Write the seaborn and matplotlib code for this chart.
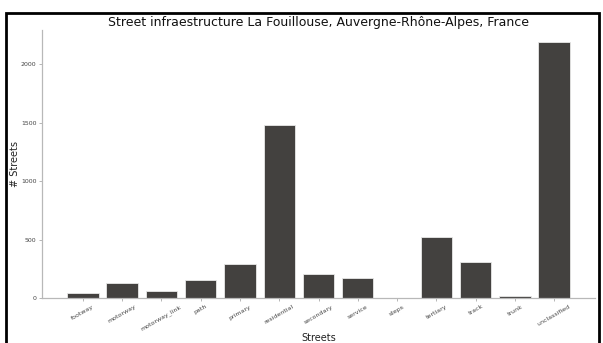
import matplotlib
matplotlib.use("Agg")
import matplotlib.pyplot as plt
import seaborn as sns
import pandas as pd
from matplotlib.patches import Rectangle

streets = ["footway", "motorway", "motorway_link", "path", "primary", "residential",
           "secondary", "service", "steps", "tertiary", "track", "trunk", "unclassified"]
counts = [43, 133, 66, 155, 294, 1480, 207, 170, 4, 520, 310, 19, 2188]

df = pd.DataFrame({"Streets": streets, "count": counts})

sns.set_style("white")
plt.rcParams['font.family'] = ['DejaVu Sans']

fig = plt.figure(figsize=(6.03, 3.43), dpi=100)
ax = fig.add_axes([42/603, 1-298.3/343, (595-42)/603, (298.3-29.5)/343])

sns.barplot(data=df, x="Streets", y="count", color="#43413f", saturation=1,
            width=0.8, edgecolor="#e8e8e8", linewidth=0.6, ax=ax)
ax.set_xlim(-1.04, 13.04)
ax.set_ylim(0, 2188*1.05)

for s in ["top", "right"]:
    ax.spines[s].set_visible(False)
for s in ["left", "bottom"]:
    ax.spines[s].set_color("#b8b8b8")
    ax.spines[s].set_linewidth(0.9)

ax.tick_params(axis="both", which="both", length=2, width=0.5, color="#999999",
               labelsize=4.5, labelcolor="#444444", pad=2, left=True, bottom=True)
ax.set_yticks([0, 500, 1000, 1500, 2000])
plt.setp(ax.get_xticklabels(), rotation=30, ha="center")

ax.set_xlabel("Streets", fontsize=7, color="#222222", labelpad=0.5)
ax.set_ylabel("# Streets", fontsize=7, color="#222222", labelpad=0.5)
ax.set_title("Street infraestructure La Fouillouse, Auvergne-Rhône-Alpes, France",
             fontsize=9, color="#111111", pad=2.5)

fig.patches.append(Rectangle((6/603, -0.1), (599-6)/603, 1.1 - 12.7/343,
                             transform=fig.transFigure, fill=False,
                             edgecolor="black", linewidth=2, zorder=10))

fig.savefig("out.png", dpi=100)
